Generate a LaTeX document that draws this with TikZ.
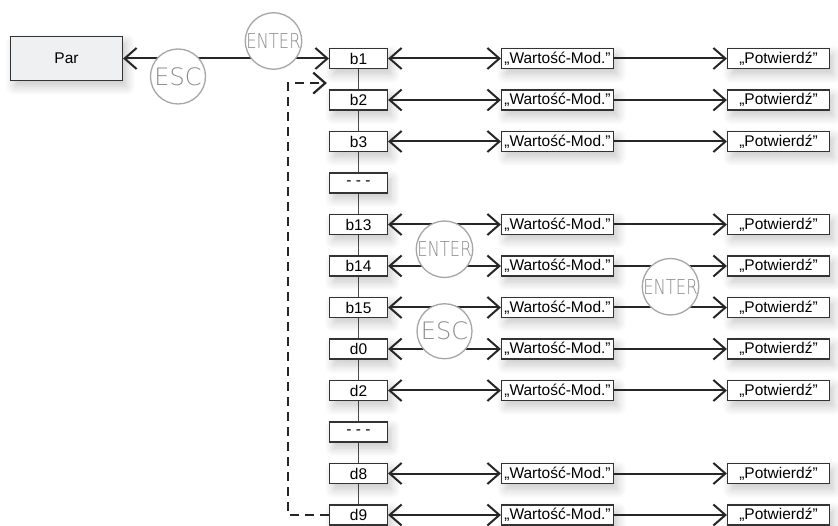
\documentclass[tikz,border=0pt]{standalone}
\usepackage{fontspec}
\setmainfont{Liberation Sans}
\newfontfamily\keyfont{DejaVu Sans ExtraLight}
\usepackage{graphicx}
\usepackage{xcolor}
\usepackage{tikz}
\usetikzlibrary{arrows.meta, positioning, calc, backgrounds, shadows.blur}

\definecolor{parfill}{HTML}{EFF0F2}
\definecolor{edgegray}{HTML}{333333}
\newcommand{\enterkey}{\scalebox{0.8}[1]{\fontsize{20.5}{20.5}\selectfont ENTER}}

\begin{document}
\begin{tikzpicture}[
    x=1pt, y=1pt,
    node distance=20.3pt and 112.8pt,
    box/.style={rectangle, draw=edgegray, line width=1.2pt, fill=white, minimum height=20pt, inner sep=1pt, font=\fontsize{15.5}{17}\selectfont, blur shadow={shadow xshift=4pt, shadow yshift=-6pt, shadow blur radius=9pt, shadow blur steps=12, shadow opacity=22}},
    regbox/.style={box, minimum width=58pt},
    valbox/.style={box, minimum width=112pt},
    okbox/.style={box, minimum width=102pt},
    keybtn/.style={circle, draw=black!35, line width=1.3pt, fill=white, minimum size=55pt, inner sep=0pt, text=black!45, font=\keyfont\fontsize{24}{24}\selectfont},
    arrow/.style={{Straight Barb[length=12pt,width=21pt]}-{Straight Barb[length=12pt,width=21pt]}, line width=2pt, black!85},
    fwdarrow/.style={-{Straight Barb[length=12pt,width=21pt]}, line width=2pt, black!85},
    loopback/.style={-{Straight Barb[length=12pt,width=21pt]}, line width=2.2pt, black!85, dash pattern=on 9pt off 6pt},
    spine/.style={line width=1.5pt, black!70}
]
\useasboundingbox (0,0) rectangle (838,-526);

% === Left: parameter box ===
\node[box, fill=parfill, minimum width=112pt, minimum height=44pt] (par) at (66.5,-58.5) {Par};

% === Register column ===
\node[regbox] (b1) at (358.5,-58.5) {b1};
\node[regbox, below=of b1] (b2) {b2};
\node[regbox, below=of b2] (b3) {b3};
\node[regbox, below=of b3] (gap1) {- - -};
\node[regbox, below=of gap1] (b13) {b13};
\node[regbox, below=of b13] (b14) {b14};
\node[regbox, below=of b14] (b15) {b15};
\node[regbox, below=of b15] (d0) {d0};
\node[regbox, below=of d0] (d2) {d2};
\node[regbox, below=of d2] (gap2) {- - -};
\node[regbox, below=of gap2] (d8) {d8};
\node[regbox, below=of d8] (d9) {d9};

% === Value and confirm boxes ===
\node[valbox, right=of b1] (vb1) {„Wartość-Mod.”};
\node[valbox, right=of b2] (vb2) {„Wartość-Mod.”};
\node[valbox, right=of b3] (vb3) {„Wartość-Mod.”};
\node[valbox, right=of b13] (vb13) {„Wartość-Mod.”};
\node[valbox, right=of b14] (vb14) {„Wartość-Mod.”};
\node[valbox, right=of b15] (vb15) {„Wartość-Mod.”};
\node[valbox, right=of d0] (vd0) {„Wartość-Mod.”};
\node[valbox, right=of d2] (vd2) {„Wartość-Mod.”};
\node[valbox, right=of d8] (vd8) {„Wartość-Mod.”};
\node[valbox, right=of d9] (vd9) {„Wartość-Mod.”};

\node[okbox, right=of vb1] (cb1) {„Potwierdź”};
\node[okbox, right=of vb2] (cb2) {„Potwierdź”};
\node[okbox, right=of vb3] (cb3) {„Potwierdź”};
\node[okbox, right=of vb13] (cb13) {„Potwierdź”};
\node[okbox, right=of vb14] (cb14) {„Potwierdź”};
\node[okbox, right=of vb15] (cb15) {„Potwierdź”};
\node[okbox, right=of vd0] (cd0) {„Potwierdź”};
\node[okbox, right=of vd2] (cd2) {„Potwierdź”};
\node[okbox, right=of vd8] (cd8) {„Potwierdź”};
\node[okbox, right=of vd9] (cd9) {„Potwierdź”};

% Column spine and loop back
\begin{scope}[on background layer]
\draw[spine] (b1) -- (d9);
\end{scope}
\coordinate[below left=14pt and 2pt of b1.south west] (loopin);
\draw[loopback] (d9.west) -- ++(-41,0) |- (loopin);

% === Arrows ===
\draw[arrow] (par) -- (b1);
\draw[arrow] (b1) -- (vb1);
\draw[arrow] (b2) -- (vb2);
\draw[arrow] (b3) -- (vb3);
\draw[arrow] (b13) -- (vb13);
\draw[arrow] (b14) -- (vb14);
\draw[arrow] (b15) -- (vb15);
\draw[arrow] (d0) -- (vd0);
\draw[arrow] (d2) -- (vd2);
\draw[arrow] (d8) -- (vd8);
\draw[arrow] (d9) -- (vd9);

\draw[fwdarrow] (vb1) -- (cb1);
\draw[fwdarrow] (vb2) -- (cb2);
\draw[fwdarrow] (vb3) -- (cb3);
\draw[fwdarrow] (vb13) -- (cb13);
\draw[fwdarrow] (vb14) -- (cb14);
\draw[fwdarrow] (vb15) -- (cb15);
\draw[fwdarrow] (vd0) -- (cd0);
\draw[fwdarrow] (vd2) -- (cd2);
\draw[fwdarrow] (vd8) -- (cd8);
\draw[fwdarrow] (vd9) -- (cd9);

% === Key buttons ===
\node[keybtn] (escpar) at (178,-76.5) {ESC};
\node[keybtn] (enterpar) at (273.5,-41) {\enterkey};
\node[keybtn] (entermid) at ($(b13.east)!0.5!(vb14.west)+(0,-4)$) {\enterkey};
\node[keybtn] (escmid) at ($(b15.east)!0.5!(vd0.west)+(0,-3)$) {ESC};
\node[keybtn] (enterright) at ($(vb14.east)!0.5!(cb15.west)$) {\enterkey};

\end{tikzpicture}
\end{document}
